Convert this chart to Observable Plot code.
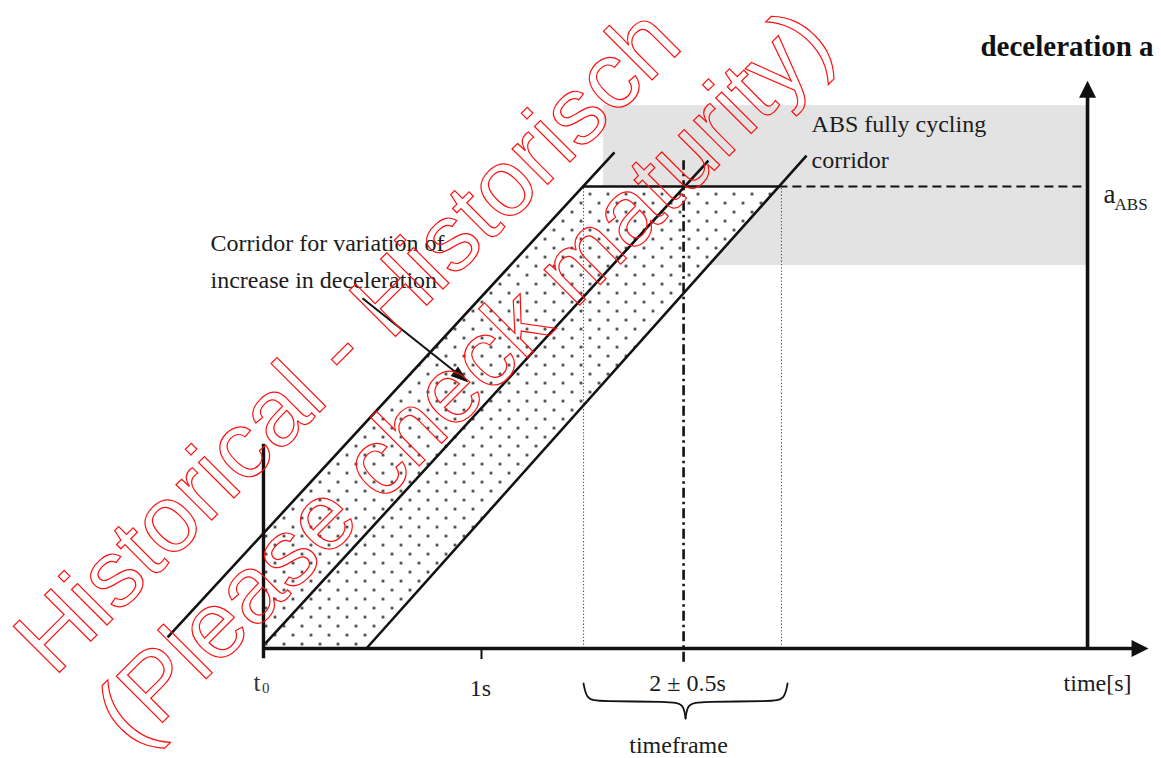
<!DOCTYPE html>
<html><head><meta charset="utf-8">
<script src="https://cdn.jsdelivr.net/npm/d3@7"></script>
<script src="https://cdn.jsdelivr.net/npm/@observablehq/plot@0.6"></script>
<style>html,body{margin:0;padding:0;background:#fff;} svg{display:block;}</style>
</head><body><div id="chart"></div>
<script>
// ---- Data (schematic): time t in s (t0 = 0, tick at 1 s), deceleration a relative to a_ABS = 1 ----
const corridorIds = ["outer-left", "middle", "outer-right"];
const corridorStartT = [-0.440, 0.009, 0.472];
const corridorStartA = [0.024, 0.011, 0.000];
const corridorEndT = [1.610, 2.041, 2.491];
const corridorEndA = [1.074, 1.056, 1.067];
const aABS = 1;
const timeframeT = [1.468, 1.927, 2.376];      // 2 - 0.5 s, 2 s, 2 + 0.5 s (as drawn)
const midMarkerA = [-0.030, 1.056];
const absBandA = [0.829, 1.175];
const absBandStartT = 1.560;
const t0MarkerA = [-0.022, 0.442];
const oneSecondTickA = [0, -0.024];
const axisCornerT = 3.780;
const xAxisTipT = 4.06;
const yAxisTipA = 1.229;
const pointerFrom = [0.454, 0.758];
const pointerTip = [0.940, 0.576];
const braceLeft = [[1.468,-0.0758],[1.482,-0.1104],[1.537,-0.1147],[1.867,-0.1147],[1.927,-0.1190],[1.936,-0.1515]];
const braceRight = [[1.936,-0.1515],[1.945,-0.1190],[2.005,-0.1147],[2.335,-0.1147],[2.390,-0.1104],[2.404,-0.0758]];

const labelTexts = ["ABS fully cycling", "corridor", "Corridor for variation of", "increase in deceleration", "1s", "2 \u00b1 0.5s", "timeframe", "time[s]"];
const labelT = [2.514, 2.514, -0.243, -0.243, 0.995, 1.945, 1.904, 3.670];
const labelA = [1.119, 1.039, 0.861, 0.781, -0.102, -0.093, -0.226, -0.091];
const labelAnchor = ["start", "start", "start", "start", "middle", "middle", "middle", "start"];
const watermarkTexts = ["Historical - Historisch", "(Please check maturity)"];
const watermarkT = [0.486, 1.018];
const watermarkA = [0.619, 0.539];

// ---- Geometry derived from the data ----
const corridors = corridorIds.map((id, i) => ({id, t1: corridorStartT[i], a1: corridorStartA[i], t2: corridorEndT[i], a2: corridorEndA[i]}));
const tAt = (c, a) => c.t1 + (a - c.a1) * (c.t2 - c.t1) / (c.a2 - c.a1);
const aAt = (c, t) => c.a1 + (t - c.t1) * (c.a2 - c.a1) / (c.t2 - c.t1);
const L = corridors[0], R = corridors[2];
const poly = [
  {t: 0, a: 0}, {t: 0, a: aAt(L, 0)}, {t: tAt(L, aABS), a: aABS},
  {t: tAt(R, aABS), a: aABS}, {t: tAt(R, 0), a: 0}, {t: 0, a: 0}
];
const labels = labelTexts.map((text, i) => ({text, t: labelT[i], a: labelA[i], anchor: labelAnchor[i]}));
const watermark = watermarkTexts.map((text, i) => ({text, t: watermarkT[i], a: watermarkA[i]}));
const brace = [...braceLeft.map(([t, a]) => ({t, a, side: "l"})), ...braceRight.map(([t, a]) => ({t, a, side: "r"}))];

// filled arrowhead, tip at the anchor, pointing up before rotation
const head = (len, half) => ({draw(ctx) { ctx.moveTo(0, 0); ctx.lineTo(half, len); ctx.lineTo(-half, len); ctx.closePath(); }});

const W = 1161, H = 758;
const X0 = 263, XS = 218, Y0 = 648, YS = 462; // pixel frame of the schematic
const serif = "'Liberation Serif', 'Times New Roman', serif";
const ink = "#111";

const pointerAngle = Math.atan2((pointerTip[1] - pointerFrom[1]) * -YS, (pointerTip[0] - pointerFrom[0]) * XS) * 180 / Math.PI;
const pr = pointerAngle * Math.PI / 180;

const chart = Plot.plot({
  width: W, height: H,
  margin: 0,
  x: {domain: [-X0 / XS, (W - X0) / XS], axis: null},
  y: {domain: [(Y0 - H) / YS, Y0 / YS], axis: null},
  style: {background: "#fff", overflow: "visible"},
  marks: [
    Plot.rect([{}], {x1: () => absBandStartT, x2: () => axisCornerT, y1: () => absBandA[0], y2: () => absBandA[1], fill: "#e3e3e3"}),
    Plot.line(poly, {x: "t", y: "a", fill: "#fff", stroke: "none"}),
    Plot.line(poly, {x: "t", y: "a", fill: "url(#dots)", stroke: "none"}),
    Plot.ruleX([timeframeT[0], timeframeT[2]], {y1: 0, y2: aABS, stroke: "#555", strokeWidth: 1.1, strokeDasharray: "1.3,2"}),
    Plot.ruleX([timeframeT[1]], {y1: midMarkerA[0], y2: midMarkerA[1], stroke: ink, strokeWidth: 2.6, strokeDasharray: "10,4,2.5,4"}),
    Plot.ruleY([aABS], {x1: () => tAt(L, aABS), x2: () => tAt(R, aABS), stroke: ink, strokeWidth: 2.5}),
    Plot.ruleY([aABS], {x1: () => tAt(R, aABS), x2: () => axisCornerT, stroke: ink, strokeWidth: 2.2, strokeDasharray: "9,5"}),
    Plot.link(corridors, {x1: "t1", y1: "a1", x2: "t2", y2: "a2", stroke: ink, strokeWidth: 2.6}),
    // axes
    Plot.link([{}], {x1: () => 0, y1: () => 0, x2: () => xAxisTipT - 12 / XS, y2: () => 0, stroke: ink, strokeWidth: 3.6}),
    Plot.link([{}], {x1: () => axisCornerT, y1: () => 0, x2: () => axisCornerT, y2: () => yAxisTipA - 12 / YS, stroke: ink, strokeWidth: 3.6}),
    Plot.ruleX([0], {y1: t0MarkerA[0], y2: t0MarkerA[1], stroke: ink, strokeWidth: 3.4}),
    Plot.ruleX([1], {y1: oneSecondTickA[0], y2: oneSecondTickA[1], stroke: ink, strokeWidth: 2}),
    Plot.dot([{t: xAxisTipT, a: 0, r: 90}, {t: axisCornerT, a: yAxisTipA, r: 0}], {x: "t", y: "a", rotate: "r", symbol: head(17, 8.5), fill: ink, stroke: "none", r: 5}),
    // pointer arrow
    Plot.link([{}], {x1: () => pointerFrom[0], y1: () => pointerFrom[1], x2: () => pointerTip[0] - 11 * Math.cos(pr) / XS, y2: () => pointerTip[1] + 11 * Math.sin(pr) / YS, stroke: ink, strokeWidth: 2}),
    Plot.dot([{t: pointerTip[0], a: pointerTip[1]}], {x: "t", y: "a", rotate: 90 + pointerAngle, symbol: head(18, 6), fill: ink, stroke: "none", r: 5}),
    // brace
    Plot.line(brace, {x: "t", y: "a", z: "side", curve: "basis", stroke: ink, strokeWidth: 1.8}),
    // labels
    Plot.text(labels, {x: "t", y: "a", text: "text", textAnchor: "start", filter: d => d.anchor === "start", lineAnchor: "bottom", fontSize: 24, fontFamily: serif, fill: "#1c1c1c"}),
    Plot.text(labels, {x: "t", y: "a", text: "text", textAnchor: "middle", filter: d => d.anchor === "middle", lineAnchor: "bottom", fontSize: 24, fontFamily: serif, fill: "#1c1c1c"}),
    Plot.text(["deceleration a"], {x: () => 4.083, y: () => 1.2835, text: d => d, textAnchor: "end", lineAnchor: "bottom", fontSize: 29, fontWeight: "bold", fontFamily: serif, fill: "#111"}),
    Plot.text(["a"], {x: () => 3.853, y: () => 0.965, text: d => d, textAnchor: "start", lineAnchor: "bottom", fontSize: 27, fontFamily: serif, fill: "#1c1c1c"}),
    Plot.text(["ABS"], {x: () => 3.904, y: () => 0.950, text: d => d, textAnchor: "start", lineAnchor: "bottom", fontSize: 17, fontFamily: serif, fill: "#1c1c1c"}),
    Plot.text(["t"], {x: () => -0.046, y: () => -0.091, text: d => d, textAnchor: "start", lineAnchor: "bottom", fontSize: 25, fontFamily: serif, fill: "#333"}),
    Plot.text(["0"], {x: () => -0.007, y: () => -0.097, text: d => d, textAnchor: "start", lineAnchor: "bottom", fontSize: 15, fontFamily: serif, fill: "#333"}),
    // watermark
    Plot.text(watermark, {x: "t", y: "a", text: "text", rotate: -45, textAnchor: "middle", lineAnchor: "bottom", fontSize: 95, fontFamily: "'Liberation Sans', Arial, sans-serif", fill: "none", stroke: "#ff1010", strokeWidth: 1.2, strokeLinejoin: "miter"})
  ]
});

const defs = d3.select(chart).insert("defs", ":first-child");
const pat = defs.append("pattern").attr("id", "dots").attr("patternUnits", "userSpaceOnUse").attr("width", 18).attr("height", 18);
pat.append("circle").attr("cx", 4.5).attr("cy", 4.5).attr("r", 1.5).attr("fill", "#333");
pat.append("circle").attr("cx", 13.5).attr("cy", 13.5).attr("r", 1.5).attr("fill", "#333");
document.getElementById("chart").append(chart);
</script>
</body></html>
